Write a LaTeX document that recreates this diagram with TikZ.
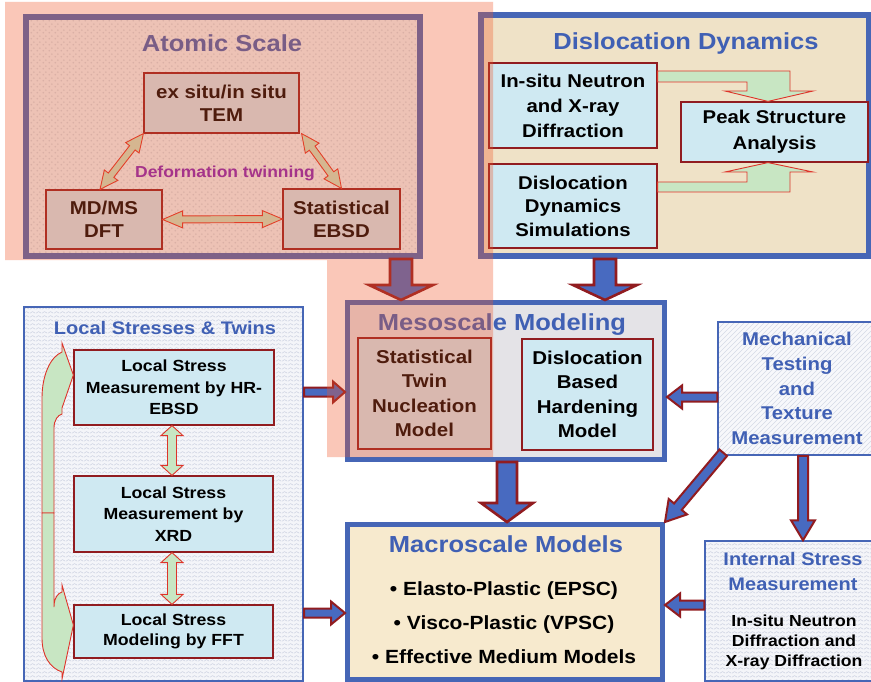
\documentclass[tikz,border=0pt]{standalone}
\usepackage{fontspec}
\setmainfont[FakeStretch=1.1]{Liberation Sans}
\usetikzlibrary{calc,patterns}
\definecolor{tblue}{RGB}{64,96,180}
\definecolor{bordblue}{RGB}{70,102,182}
\definecolor{arrblue}{RGB}{72,106,192}
\definecolor{dred}{RGB}{145,28,32}
\definecolor{ared}{RGB}{222,52,42}
\definecolor{lgreen}{RGB}{200,230,195}
\definecolor{lblue}{RGB}{207,233,242}
\definecolor{abox}{RGB}{236,248,250}
\definecolor{adot}{RGB}{208,220,228}
\definecolor{parch}{RGB}{239,226,199}
\definecolor{marble}{RGB}{228,227,231}
\definecolor{macrof}{RGB}{247,234,206}
\definecolor{lfill}{RGB}{244,245,249}
\definecolor{lzig}{RGB}{202,208,224}
\definecolor{hfill}{RGB}{247,248,251}
\definecolor{hline}{RGB}{212,218,230}
\definecolor{twp}{RGB}{129,35,187}
\definecolor{salmon}{RGB}{240,87,41}
\pgfdeclarepatternformonly{checkdots}{\pgfqpoint{0pt}{0pt}}{\pgfqpoint{6pt}{6pt}}{\pgfqpoint{6pt}{6pt}}{%
 \pgfpathcircle{\pgfqpoint{1.5pt}{1.5pt}}{1.1pt}%
 \pgfpathcircle{\pgfqpoint{4.5pt}{4.5pt}}{1.1pt}%
 \pgfusepath{fill}}
\pgfdeclarepatternformonly{zigzag}{\pgfqpoint{0pt}{0pt}}{\pgfqpoint{6pt}{4pt}}{\pgfqpoint{6pt}{4pt}}{%
 \pgfsetlinewidth{0.6pt}%
 \pgfpathmoveto{\pgfqpoint{0pt}{1pt}}%
 \pgfpathlineto{\pgfqpoint{3pt}{3pt}}%
 \pgfpathlineto{\pgfqpoint{6pt}{1pt}}%
 \pgfusepath{stroke}}
\pgfdeclarepatternformonly{hatch}{\pgfqpoint{-0.5pt}{-0.5pt}}{\pgfqpoint{5.5pt}{5.5pt}}{\pgfqpoint{5pt}{5pt}}{%
 \pgfsetlinewidth{0.6pt}%
 \pgfpathmoveto{\pgfqpoint{0pt}{0pt}}%
 \pgfpathlineto{\pgfqpoint{5pt}{5pt}}%
 \pgfusepath{stroke}}
% single block arrow: style, tail, tip, shaft half width, head half width, head length
\newcommand\blkarrow[6]{%
 \coordinate (sabase) at ($(#3)!#6!(#2)$);
 \draw[#1] ($(#2)!#4!90:(#3)$) -- ($(sabase)!#4!-90:(#2)$) -- ($(sabase)!#5!-90:(#2)$) -- (#3)
   -- ($(sabase)!#5!90:(#2)$) -- ($(sabase)!#4!90:(#2)$) -- ($(#2)!#4!-90:(#3)$) -- cycle;}
% double block arrow
\newcommand\dblarrow[6]{%
 \coordinate (dbA) at ($(#2)!#6!(#3)$);
 \coordinate (dbB) at ($(#3)!#6!(#2)$);
 \draw[#1] (#2) -- ($(dbA)!#5!90:(#3)$) -- ($(dbA)!#4!90:(#3)$) -- ($(dbB)!#4!-90:(#2)$)
   -- ($(dbB)!#5!-90:(#2)$) -- (#3) -- ($(dbB)!#5!90:(#2)$) -- ($(dbB)!#4!90:(#2)$)
   -- ($(dbA)!#4!-90:(#3)$) -- ($(dbA)!#5!-90:(#3)$) -- cycle;}
\begin{document}
\begin{tikzpicture}[x=1pt,y=-1pt,
  ibox/.style={draw=dred, line width=1.2pt, fill=lblue, align=center, inner sep=0pt},
  bigtitle/.style={anchor=base, text=tblue, font=\bfseries\fontsize{23.2}{28}\selectfont},
  atxt/.style={font=\bfseries\fontsize{18.6}{23}\selectfont},
  dtxt/.style={font=\bfseries\fontsize{18.5}{25}\selectfont},
  ltxt/.style={font=\bfseries\fontsize{16.1}{21.6}\selectfont},
  bigarr/.style={fill=arrblue, draw=dred, line width=2.6pt, line join=miter},
  smarr/.style={fill=arrblue, draw=dred, line width=2pt, line join=miter},
  grarr/.style={fill=lgreen, draw=ared, line width=0.9pt, line join=miter},
]
\useasboundingbox (0,0) rectangle (871,682);
\fill[white] (0,0) rectangle (871,682);

% ---------- Atomic Scale ----------
\node[draw=bordblue, line width=6pt, minimum width=394.5pt, minimum height=238.5pt, inner sep=0pt,
  preaction={fill=abox}, preaction={pattern=checkdots, pattern color=adot}] (atomic) at (222.75,136.75) {};
\node[bigtitle] (atitle) at (222,52) {Atomic Scale};
\node[ibox, atxt, minimum width=155pt, minimum height=60pt] (tem) at (221.5,103) {ex situ/in situ\\TEM};
\node[ibox, atxt, minimum width=116pt, minimum height=59pt] (md) at (104,219.5) {MD/MS\\DFT};
\node[ibox, atxt, minimum width=117pt, minimum height=60pt] (stat) at (341.5,219) {Statistical\\EBSD};
\node[anchor=base, text=twp, font=\bfseries\fontsize{15.9}{19}\selectfont] (twin) at (225,178) {Deformation twinning};
\coordinate (t1) at (tem.south west);
\coordinate (m1) at ($(md.north)+(-4,0)$);
\coordinate (t2) at ($(tem.south east)+(2,0)$);
\coordinate (s1) at (stat.north);
\dblarrow{grarr}{t1}{m1}{3.5pt}{8.5pt}{18pt}
\dblarrow{grarr}{t2}{s1}{3.5pt}{8.5pt}{18pt}
\dblarrow{grarr}{md.east}{stat.west}{3.5pt}{8.5pt}{20pt}

% ---------- Dislocation Dynamics ----------
\node[draw=bordblue, line width=6pt, minimum width=387.5pt, minimum height=240.5pt, inner sep=0pt, fill=parch] (disl) at (674.75,135.75) {};
\node[bigtitle] (dtitle) at (686,50) {Dislocation Dynamics};
\node[ibox, dtxt, minimum width=168pt, minimum height=85pt] (insitu) at (573,105.5) {In-situ Neutron\\and X-ray\\Diffraction};
\node[ibox, dtxt, minimum width=168pt, minimum height=84pt, font=\bfseries\fontsize{18.5}{23.5}\selectfont] (ddsim) at (573,206) {Dislocation\\Dynamics\\Simulations};
\node[ibox, dtxt, minimum width=187pt, minimum height=60pt, font=\bfseries\fontsize{18.5}{26}\selectfont] (peak) at (774.5,132) {Peak Structure\\Analysis};
\draw[grarr] (insitu.east |- 0,71) -- (790,71) -- (790,91) -- (813,91) -- (768,0 |- peak.north) -- (725,91)
  -- (747,91) -- (747,82) -- (insitu.east |- 0,82) -- cycle;
\draw[grarr] (ddsim.east |- 0,182) -- (747,182) -- (747,172) -- (725,172) -- (768,0 |- peak.south) -- (813,172)
  -- (790,172) -- (790,192) -- (ddsim.east |- 0,192) -- cycle;

% ---------- Mesoscale Modeling ----------
\node[draw=bordblue, line width=5pt, minimum width=317pt, minimum height=157pt, inner sep=0pt, fill=marble] (meso) at (506,381) {};
\node[bigtitle] (mtitle) at (502,330) {Mesoscale Modeling};
\node[ibox, atxt, minimum width=133pt, minimum height=111pt, font=\bfseries\fontsize{18.6}{24.3}\selectfont] (twinm) at (424.5,393.5) {Statistical\\Twin\\Nucleation\\Model};
\node[ibox, atxt, minimum width=131pt, minimum height=111pt, font=\bfseries\fontsize{18.6}{24.3}\selectfont] (dbh) at (587.5,394.5) {Dislocation\\Based\\Hardening\\Model};

% ---------- Macroscale Models ----------
\node[draw=bordblue, line width=5pt, minimum width=315pt, minimum height=155pt, inner sep=0pt, fill=macrof] (macro) at (505,602) {};
\node[bigtitle] (matitle) at (506,552) {Macroscale Models};
\node[anchor=base, font=\bfseries\fontsize{19.1}{23}\selectfont] (it1) at (504,595) {• Elasto-Plastic (EPSC)};
\node[anchor=base, font=\bfseries\fontsize{19.1}{23}\selectfont] (it2) at (504,629.5) {• Visco-Plastic (VPSC)};
\node[anchor=base, font=\bfseries\fontsize{19.1}{23}\selectfont] (it3) at (504,663.5) {• Effective Medium Models};

% ---------- Local Stresses & Twins ----------
\node[draw=bordblue, line width=2pt, minimum width=279pt, minimum height=374pt, inner sep=0pt,
  preaction={fill=lfill}, preaction={pattern=zigzag, pattern color=lzig}] (local) at (163.5,494) {};
\node[anchor=base, text=tblue, font=\bfseries\fontsize{18.2}{22}\selectfont] (ltitle) at (165,334) {Local Stresses \& Twins};
\node[ibox, ltxt, minimum width=200pt, minimum height=75pt] (box1) at (174,387.5) {Local Stress\\Measurement by HR-\\EBSD};
\node[ibox, ltxt, minimum width=199pt, minimum height=76pt] (box2) at (173.5,514) {Local Stress\\Measurement by\\XRD};
\node[ibox, ltxt, minimum width=199pt, minimum height=53pt, font=\bfseries\fontsize{16.1}{20}\selectfont] (box3) at (173.5,631.5) {Local Stress\\Modeling by FFT};
\coordinate (b1s) at ($(box1.south)+(-2,0)$);
\coordinate (b2n) at ($(box2.north)+(-1.5,0)$);
\coordinate (b2s) at ($(box2.south)+(-1.5,0)$);
\coordinate (b3n) at ($(box3.north)+(-1.5,0)$);
\dblarrow{grarr}{b1s}{b2n}{4.5pt}{11pt}{10pt}
\dblarrow{grarr}{b2s}{b3n}{4.5pt}{11pt}{10pt}
\draw[grarr] (42,513) -- (42,398) .. controls (42,376) and (50,357) .. (62,352) -- (62,343)
  -- (box1.west |- 0,375) -- (62,408) -- (62,414) .. controls (58,415) and (54,420) .. (54,428)
  -- (54,513) -- cycle;
\draw[grarr] (42,513) -- (42,638) .. controls (42,656) and (50,668) .. (62,672) -- (62,679)
  -- (box3.west |- 0,625) -- (62,585) -- (62,592) .. controls (58,593) and (54,598) .. (54,607)
  -- (54,513) -- cycle;

% ---------- Mechanical Testing ----------
\node[draw=bordblue, line width=1.5pt, minimum width=158pt, minimum height=133pt, inner sep=0pt,
  preaction={fill=hfill}, preaction={pattern=hatch, pattern color=hline},
  align=center, text=tblue, font=\bfseries\fontsize{18.5}{24.7}\selectfont] (mech) at (797,388.5)
  {Mechanical\\Testing\\and\\Texture\\Measurement};

% ---------- Internal Stress ----------
\node[draw=bordblue, line width=1.5pt, minimum width=176pt, minimum height=140pt, inner sep=0pt,
  preaction={fill=lfill}, preaction={pattern=zigzag, pattern color=lzig}] (internal) at (793,611) {};
\node[align=center, text=tblue, font=\bfseries\fontsize{18.2}{25}\selectfont] (ititle) at (793,571) {Internal Stress\\Measurement};
\node[align=center, font=\bfseries\fontsize{16}{20}\selectfont] (isub) at (794,642) {In-situ Neutron\\Diffraction and\\X-ray Diffraction};

% ---------- Block arrows ----------
\coordinate (a1s) at (401,0 |- atomic.south);
\coordinate (a1e) at (401,0 |- meso.north);
\coordinate (a2s) at (605,0 |- disl.south);
\coordinate (a2e) at (605,0 |- meso.north);
\coordinate (a3s) at (507,0 |- meso.south);
\coordinate (a3e) at (507,0 |- macro.north);
\coordinate (a4s) at (local.east |- 0,392);
\coordinate (a4e) at (meso.west |- 0,392);
\coordinate (a5s) at (local.east |- 0,613);
\coordinate (a5e) at (macro.west |- 0,613);
\coordinate (a6s) at (mech.west |- 0,397);
\coordinate (a6e) at (meso.east |- 0,397);
\coordinate (a7s) at (internal.west |- 0,605);
\coordinate (a7e) at (macro.east |- 0,605);
\coordinate (a8s) at (803,0 |- mech.south);
\coordinate (a8e) at (803,0 |- internal.north);
\coordinate (a9s) at ($(mech.south west)+(6,-3)$);
\coordinate (a9e) at (macro.north east);
\blkarrow{bigarr}{a1s}{a1e}{11pt}{32pt}{15pt}
\blkarrow{bigarr}{a2s}{a2e}{11pt}{32pt}{15pt}
\blkarrow{bigarr}{a3s}{a3e}{10pt}{26pt}{19pt}
\blkarrow{smarr}{a4s}{a4e}{4.5pt}{10.5pt}{12pt}
\blkarrow{smarr}{a5s}{a5e}{4.5pt}{11.5pt}{14pt}
\blkarrow{smarr}{a6s}{a6e}{4.5pt}{11.5pt}{15pt}
\blkarrow{smarr}{a7s}{a7e}{4.5pt}{11.5pt}{15pt}
\blkarrow{smarr}{a8s}{a8e}{5pt}{12pt}{20pt}
\blkarrow{smarr}{a9s}{a9e}{5pt}{12pt}{20pt}

% ---------- translucent highlight ----------
\fill[salmon, fill opacity=0.33] (5,2) -- (493,2) -- (493,457) -- (327,457) -- (327,260) -- (5,260) -- cycle;
\end{tikzpicture}
\end{document}
